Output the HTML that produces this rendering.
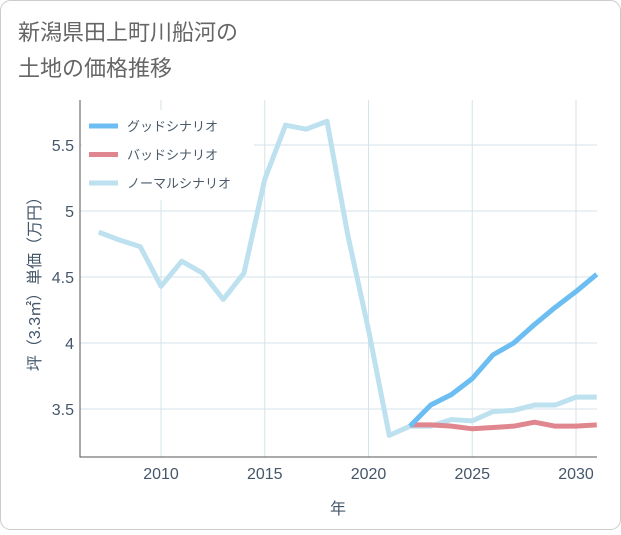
<!DOCTYPE html>
<html><head><meta charset="utf-8"><style>
body{margin:0;background:#fff;}
#wrap{position:relative;width:621px;height:530px;}
text{font-family:"Liberation Sans","Noto Sans CJK JP",sans-serif;}
</style></head><body>
<div id="wrap">
<svg id="chart" width="621" height="530">
<rect x="0.5" y="0.5" width="620" height="529" rx="10" fill="#fff" stroke="#ccc"/>
<text x="18" y="40" font-size="22" fill="#666">新潟県田上町川船河の</text>
<text x="18" y="76" font-size="22" fill="#666">土地の価格推移</text>
<g id="grid"></g>
<g id="series"></g>
<g id="legend"></g>
<text x="40" y="280" font-size="16" fill="#44576a" transform="rotate(-90 40 280)" text-anchor="middle">坪（3.3㎡）単価（万円）</text>
<text x="338" y="514" font-size="16" fill="#44576a" text-anchor="middle">年</text>
</svg>
</div>
<script>
const years=[2007,2008,2009,2010,2011,2012,2013,2014,2015,2016,2017,2018,2019,2020,2021,2022,2023,2024,2025,2026,2027,2028,2029,2030,2031];
const normalValues=[4.84,4.78,4.73,4.43,4.62,4.53,4.33,4.53,5.24,5.65,5.62,5.68,4.82,4.10,3.30,3.37,3.37,3.42,3.41,3.48,3.49,3.53,3.53,3.59,3.59];
const forecastYears=[2022,2023,2024,2025,2026,2027,2028,2029,2030,2031];
const goodValues=[3.37,3.53,3.61,3.73,3.91,4.00,4.14,4.27,4.39,4.52];
const badValues=[3.38,3.38,3.37,3.35,3.36,3.37,3.40,3.37,3.37,3.38];
const xTicks=[2010,2015,2020,2025,2030];
const yTicks=[3.5,4,4.5,5,5.5];
const L=80,R=597,T=100,B=457;
const X=v=>161+(v-2010)*(576-161)/20;
const Y=v=>409-(v-3.5)*132;
const NS="http://www.w3.org/2000/svg";
function mk(tag,attrs,parent){const e=document.createElementNS(NS,tag);for(const k in attrs)e.setAttribute(k,attrs[k]);parent.appendChild(e);return e;}
const grid=document.getElementById('grid');
xTicks.forEach(t=>{
 const l=mk('line',{x1:X(t),x2:X(t),y1:T,y2:B,stroke:'#d5e3ea'},grid);
 
 
 const tx=mk('text',{x:X(t),y:B+22,'font-size':16,fill:'#44576a','text-anchor':'middle'},grid);tx.textContent=t;
 
 
});
yTicks.forEach(t=>{
 const l=mk('line',{x1:L,x2:R,y1:Y(t),y2:Y(t),stroke:'#d5e3ea'},grid);
 
 
 const tx=mk('text',{x:L-6,y:Y(t)+6,'font-size':16,fill:'#44576a','text-anchor':'end'},grid);tx.textContent=t;
 
 
});
const ax=mk('path',{d:`M${L},${T}V${B}H${R}`,stroke:'#555',fill:'none'},grid);


const ser=document.getElementById('series');
function line(xs,vs,color,name){
 const p=mk('polyline',{points:xs.map((x,i)=>X(x)+','+Y(vs[i])).join(' '),fill:'none',stroke:color,'stroke-width':5,'stroke-linejoin':'round'},ser);
 
 
}
line(years,normalValues,'#bde1ef','normal-scenario-line');
line(forecastYears,badValues,'#e0868e','bad-scenario-line');
line(forecastYears,goodValues,'#6cbdf2','good-scenario-line');
const lg=document.getElementById('legend');
const bg=mk('rect',{x:82,y:110,width:172,height:90,fill:'#fff'},lg);


[['グッドシナリオ','#6cbdf2'],['バッドシナリオ','#e0868e'],['ノーマルシナリオ','#bde1ef']].forEach((d,i)=>{
 const y=126+i*28.5;
 const g=mk('g',{},lg);
 
 
 mk('line',{x1:89,x2:118,y1:y,y2:y,stroke:d[1],'stroke-width':5},g);
 const t=mk('text',{x:127,y:y+5,'font-size':13,fill:'#4a5a6a'},g);t.textContent=d[0];
});
</script>
</body></html>
